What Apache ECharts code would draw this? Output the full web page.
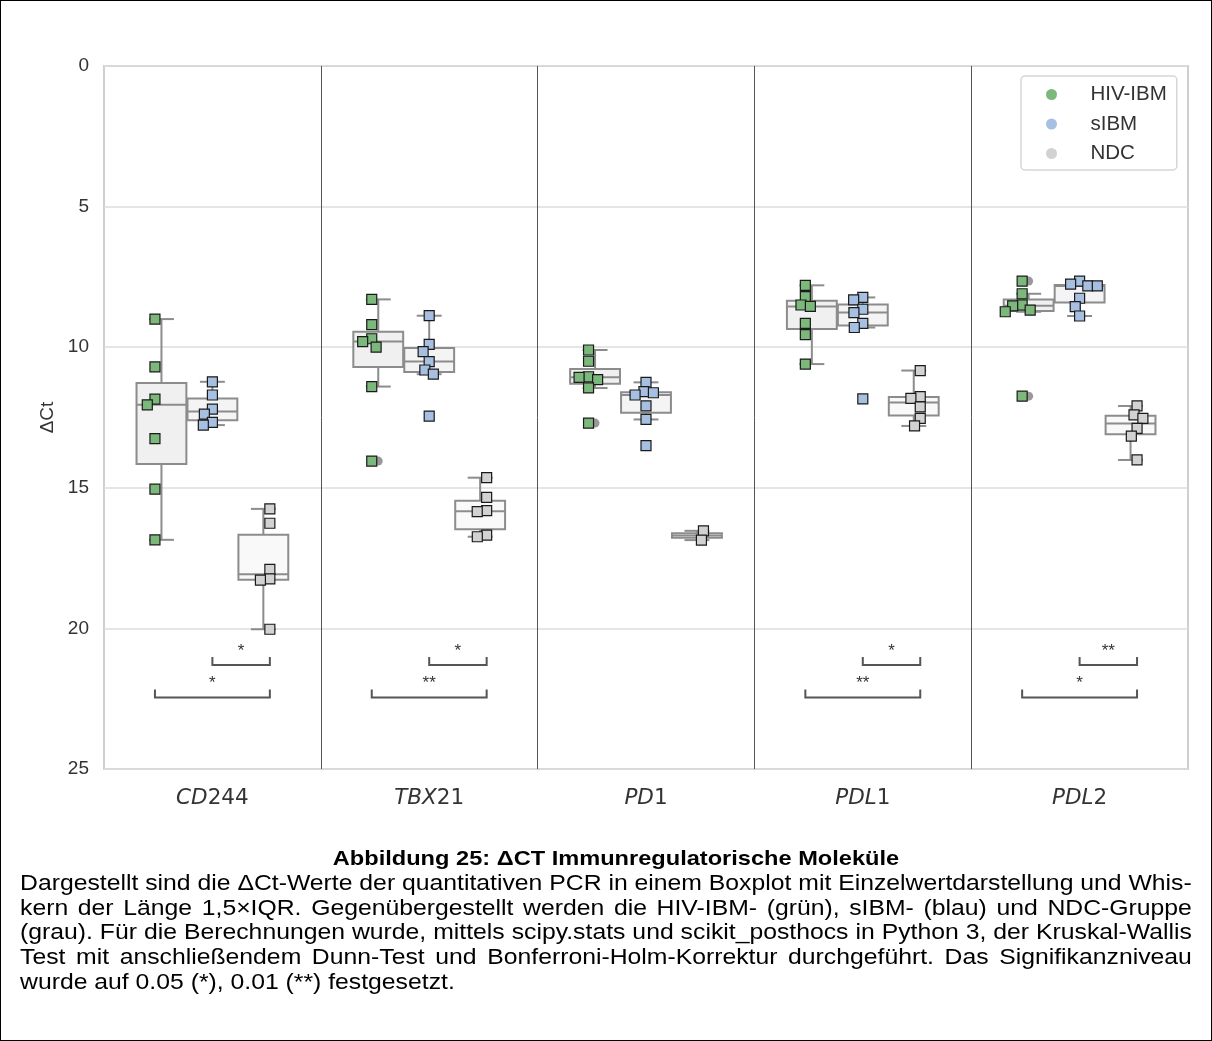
<!DOCTYPE html>
<html>
<head>
<meta charset="utf-8">
<script src="https://cdn.jsdelivr.net/npm/echarts@6/dist/echarts.min.js"></script>
<style>
html,body{margin:0;padding:0;background:#fff;width:1212px;height:1041px;overflow:hidden;}
#chart{position:absolute;left:0;top:0;width:1212px;height:1041px;}
#frame{position:absolute;left:0;top:0;width:1210px;height:1039px;border:1px solid #000;pointer-events:none;}
#cap{position:absolute;left:20px;top:846px;width:1172px;font-family:"Liberation Sans",Arial,sans-serif;color:#000;}
#capInner{transform-origin:0 0;}
#capInner div{line-height:24.8px;height:24.8px;white-space:nowrap;}
#capInner .t{font-weight:bold;text-align:center;}
</style>
</head>
<body>
<div id="chart"></div>
<div id="cap"><div id="capInner"></div></div>
<div id="frame"></div>
<script>
// ---------------- data ----------------
const categories = ['CD244', 'TBX21', 'PD1', 'PDL1', 'PDL2'];
const labelItalic = ['CD', 'TBX', 'PD', 'PDL', 'PDL'];
const labelPlain = ['244', '21', '1', '1', '2'];
const groups = ['HIV-IBM', 'sIBM', 'NDC'];
const hivIbm = [
  [9.0, 10.7, 11.85, 12.05, 13.25, 15.05, 16.85],
  [8.3, 9.2, 9.7, 9.8, 10.0, 11.4, 14.05],
  [10.1, 10.5, 11.05, 11.07, 11.15, 11.45, 12.7],
  [7.8, 8.2, 8.5, 8.55, 9.15, 9.55, 10.6],
  [7.65, 8.1, 8.5, 8.53, 8.68, 8.74, 11.74]
];
const sIbm = [
  [11.23, 11.7, 12.2, 12.38, 12.67, 12.77],
  [8.88, 9.9, 10.16, 10.51, 10.81, 10.96, 12.45],
  [11.25, 11.58, 11.62, 11.7, 12.09, 12.57, 13.5],
  [8.23, 8.32, 8.65, 8.77, 9.15, 9.3, 11.84],
  [7.65, 7.76, 7.82, 7.82, 8.26, 8.56, 8.89]
];
const ndc = [
  [15.75, 16.26, 17.9, 18.24, 18.28, 20.03],
  [14.64, 15.34, 15.81, 15.85, 16.68, 16.74],
  [16.53, 16.86],
  [10.83, 11.76, 11.82, 12.12, 12.53, 12.8],
  [12.09, 12.41, 12.53, 12.89, 13.16, 14.01]
];
const yTicks = [0, 5, 10, 15, 20, 25];
// significance brackets: category, group from, group to, label, tier
const sigCategory = [0, 0, 1, 1, 3, 3, 4, 4];
const sigFrom = [1, 0, 1, 0, 1, 0, 1, 0];
const sigTo = [2, 2, 2, 2, 2, 2, 2, 2];
const sigLabel = ['*', '*', '*', '**', '*', '**', '**', '*'];
const sigTier = [0, 1, 0, 1, 0, 1, 0, 1];

const titleText = 'Abbildung 25: \u0394CT Immunregulatorische Moleküle';
const captionLines = [
  'Dargestellt sind die \u0394Ct-Werte der quantitativen PCR in einem Boxplot mit Einzelwertdarstellung und Whis-',
  'kern der Länge 1,5×IQR. Gegenübergestellt werden die HIV-IBM- (grün), sIBM- (blau) und NDC-Gruppe',
  '(grau). Für die Berechnungen wurde, mittels scipy.stats und scikit_posthocs in Python 3, der Kruskal-Wallis',
  'Test mit anschließendem Dunn-Test und Bonferroni-Holm-Korrektur durchgeführt. Das Signifikanzniveau',
  'wurde auf 0.05 (*), 0.01 (**) festgesetzt.'
];

// ---------------- style / layout ----------------
const FONT = '"Liberation Sans", Arial, sans-serif';
const GRID = {left: 104, top: 66, width: 1084, height: 703};
const Y_MIN = 0, Y_MAX = 25, Y_INT = 5;
const PT_COLORS = ['#7cb87c', '#a7c0e2', '#d2d2d2'];
const BOX_FILLS = ['#f0f0f0', '#f4f4f4', '#f9f9f9'];
const BOX_EDGE = '#8c8c8c';
const BOX_OFF = [-0.235, 0, 0.235];
const PT_OFF = [-0.265, 0, 0.265];
const BOX_W = 0.23, CAP_W = 0.115;
const MARK = 10, SWARM_D = 9.5;
const BRACKET_Y = [21.3, 22.46];
const pxPerCat = GRID.width / categories.length;
const pxPerUnit = GRID.height / (Y_MAX - Y_MIN);

const allGroups = [hivIbm, sIbm, ndc];

function quantile(sorted, p) {
  const pos = p * (sorted.length - 1);
  const lo = Math.floor(pos), hi = Math.ceil(pos);
  return sorted[lo] + (sorted[hi] - sorted[lo]) * (pos - lo);
}
function boxStats(vals) {
  const s = vals.slice().sort((a, b) => a - b);
  const q1 = quantile(s, 0.25), med = quantile(s, 0.5), q3 = quantile(s, 0.75);
  const iqr = q3 - q1;
  const inside = s.filter(v => v >= q1 - 1.5 * iqr && v <= q3 + 1.5 * iqr);
  const out = s.filter(v => v < q1 - 1.5 * iqr || v > q3 + 1.5 * iqr);
  return {q1, med, q3, lo: inside[0], hi: inside[inside.length - 1], out};
}
function swarm(vals) {
  const idx = vals.map((v, i) => i).sort((a, b) => vals[a] - vals[b]);
  const placed = [];
  const off = new Array(vals.length).fill(0);
  idx.forEach(i => {
    const y = vals[i] * pxPerUnit;
    const cands = [0];
    placed.forEach(p => {
      const dy = Math.abs(p.y - y);
      if (dy < SWARM_D) {
        const dx = Math.sqrt(SWARM_D * SWARM_D - dy * dy);
        cands.push(p.x - dx, p.x + dx);
      }
    });
    cands.sort((a, b) => Math.abs(a) - Math.abs(b));
    let chosen = 0;
    for (const c of cands) {
      if (placed.every(p => Math.hypot(p.x - c, p.y - y) >= SWARM_D - 1e-6)) { chosen = c; break; }
    }
    placed.push({x: chosen, y});
    off[i] = chosen;
  });
  return off;
}

const series = [];
const flierData = [];
allGroups.forEach((g, gi) => {
  const boxData = [];
  g.forEach((vals, ci) => {
    const st = boxStats(vals);
    const bx = ci + BOX_OFF[gi];
    boxData.push([bx, st.q1, st.med, st.q3, st.lo, st.hi]);
    st.out.forEach(v => flierData.push([bx, v]));
  });
  series.push({
    type: 'custom', name: 'box' + gi, xAxisIndex: 1, z: 3, silent: true,
    data: boxData,
    renderItem: function (params, api) {
      const x = api.value(0), q1 = api.value(1), med = api.value(2), q3 = api.value(3), lo = api.value(4), hi = api.value(5);
      const a = api.coord([x - BOX_W / 2, q1]);
      const b = api.coord([x + BOX_W / 2, q3]);
      const c = api.coord([x, 0])[0];
      const cl = api.coord([x - CAP_W / 2, 0])[0], cr = api.coord([x + CAP_W / 2, 0])[0];
      const yLo = api.coord([x, lo])[1], yHi = api.coord([x, hi])[1], yMed = api.coord([x, med])[1];
      const ls = {stroke: BOX_EDGE, lineWidth: 2, fill: null};
      return {
        type: 'group',
        children: [
          {type: 'line', shape: {x1: c, y1: a[1], x2: c, y2: yLo}, style: ls},
          {type: 'line', shape: {x1: c, y1: b[1], x2: c, y2: yHi}, style: ls},
          {type: 'line', shape: {x1: cl, y1: yLo, x2: cr, y2: yLo}, style: ls},
          {type: 'line', shape: {x1: cl, y1: yHi, x2: cr, y2: yHi}, style: ls},
          {type: 'rect', shape: {x: a[0], y: Math.min(a[1], b[1]), width: b[0] - a[0], height: Math.abs(b[1] - a[1])},
            style: {fill: BOX_FILLS[gi], stroke: BOX_EDGE, lineWidth: 2}},
          {type: 'line', shape: {x1: a[0], y1: yMed, x2: b[0], y2: yMed}, style: ls}
        ]
      };
    }
  });
});

series.push({
  type: 'scatter', name: 'fliers', xAxisIndex: 1, z: 4, silent: true,
  symbol: 'circle', symbolSize: 9,
  itemStyle: {color: '#808080'},
  data: flierData,
  markLine: {
    silent: true, symbol: 'none', label: {show: false},
    lineStyle: {color: '#555', width: 1, type: 'solid'},
    data: categories.slice(1).map((c, i) => ({xAxis: i + 0.5}))
  }
});

allGroups.forEach((g, gi) => {
  const data = [];
  g.forEach((vals, ci) => {
    const offs = swarm(vals);
    vals.forEach((v, k) => data.push([ci + PT_OFF[gi] + offs[k] / pxPerCat, v]));
  });
  series.push({
    type: 'scatter', name: groups[gi], xAxisIndex: 1, z: 5,
    symbol: 'rect', symbolSize: MARK,
    itemStyle: {color: PT_COLORS[gi], borderColor: '#1a1a1a', borderWidth: 1.2, opacity: 1},
    data: data
  });
});

const sigData = sigCategory.map((c, i) => [c + PT_OFF[sigFrom[i]], c + PT_OFF[sigTo[i]], sigTier[i], i]);
series.push({
  type: 'custom', name: 'sig', xAxisIndex: 1, z: 6, silent: true,
  data: sigData,
  renderItem: function (params, api) {
    const x1 = api.value(0), x2 = api.value(1), tier = api.value(2), li = api.value(3);
    const p1 = api.coord([x1, BRACKET_Y[tier]]);
    const p2 = api.coord([x2, BRACKET_Y[tier]]);
    const tick = 8;
    return {
      type: 'group',
      children: [
        {type: 'polyline', shape: {points: [[p1[0], p1[1] - tick], [p1[0], p1[1]], [p2[0], p2[1]], [p2[0], p2[1] - tick]]},
          style: {stroke: '#555', lineWidth: 2, fill: null}},
        {type: 'text', style: {x: (p1[0] + p2[0]) / 2, y: p1[1] - 14, text: sigLabel[li], fill: '#333',
          font: '17px ' + FONT, align: 'center', verticalAlign: 'middle'}}
      ]
    };
  }
});

const chart = echarts.init(document.getElementById('chart'), null, {renderer: 'canvas'});
chart.setOption({
  animation: false,
  backgroundColor: 'transparent',
  textStyle: {fontFamily: FONT},
  grid: {left: GRID.left, top: GRID.top, width: GRID.width, height: GRID.height, show: true,
    borderColor: '#cfcfcf', borderWidth: 2, backgroundColor: 'transparent'},
  legend: {
    show: true, orient: 'vertical', left: 1021, top: 76,
    data: groups.map(g => ({name: g, icon: 'circle'})),
    itemWidth: 40, itemHeight: 11, itemGap: 8.5,
    padding: [8, 10, 6, 25],
    itemStyle: {borderWidth: 0},
    textStyle: {fontSize: 20.5, color: '#333', fontFamily: FONT, lineHeight: 20, padding: [0, 0, 0, 14]},
    borderColor: '#d6d6d6', borderWidth: 1.5, borderRadius: 4, backgroundColor: 'rgba(255,255,255,0.85)'
  },
  xAxis: [
    {
      type: 'category', data: categories, position: 'bottom', gridIndex: 0,
      axisLine: {show: false}, axisTick: {show: false}, splitLine: {show: false},
      axisLabel: {
        margin: 18, color: '#333',
        formatter: function (v, i) { return '{i|' + labelItalic[i] + '}{n|' + labelPlain[i] + '}'; },
        rich: {
          i: {fontFamily: '"DejaVu Sans", sans-serif', fontStyle: 'italic', fontSize: 21.5, color: '#333'},
          n: {fontFamily: '"DejaVu Sans", sans-serif', fontSize: 21.5, color: '#333'}
        }
      }
    },
    {type: 'value', min: -0.5, max: categories.length - 0.5, show: false, gridIndex: 0,
      splitLine: {show: false}}
  ],
  yAxis: {
    type: 'value', inverse: true, min: Y_MIN, max: Y_MAX, interval: Y_INT,
    axisLine: {show: false}, axisTick: {show: false},
    axisLabel: {fontSize: 19, color: '#333', margin: 15, fontFamily: FONT,
      formatter: function (v) { return yTicks.indexOf(v) >= 0 ? String(v) : ''; }},
    splitLine: {show: true, lineStyle: {color: '#dcdcdc', width: 1.5}},
    name: '\u0394Ct', nameLocation: 'middle', nameGap: 44, nameRotate: 90,
    nameTextStyle: {fontSize: 19, color: '#333', fontFamily: FONT}
  },
  series: series
});

// ---------------- caption ----------------
const CAP_W_PX = 1172;
const inner = document.getElementById('capInner');
const t = document.createElement('div');
t.className = 't'; t.style.fontSize = '20.5px';
t.textContent = titleText;
inner.appendChild(t);
const spans = [];
captionLines.forEach((line, i) => {
  const d = document.createElement('div');
  d.style.fontSize = '21.5px';
  const sp = document.createElement('span');
  sp.textContent = line;
  d.appendChild(sp);
  inner.appendChild(d);
  spans.push(sp);
});
function layoutCaption() {
  spans.forEach(sp => { sp.parentNode.style.wordSpacing = '0px'; });
  inner.style.transform = 'none';
  inner.style.width = '3000px';
  const natural0 = spans[0].offsetWidth;
  const sx = CAP_W_PX / natural0;
  const innerW = CAP_W_PX / sx;
  inner.style.width = innerW + 'px';
  inner.style.transform = 'scaleX(' + sx + ')';
  t.style.marginLeft = (20 / sx) + 'px';
  spans.forEach((sp, i) => {
    if (i === 0 || i === spans.length - 1) return;
    const natural = sp.offsetWidth;
    const nSpaces = (captionLines[i].match(/ /g) || []).length;
    sp.parentNode.style.wordSpacing = ((innerW - natural) / nSpaces) + 'px';
  });
}
layoutCaption();
if (document.fonts && document.fonts.ready) document.fonts.ready.then(layoutCaption);
</script>
</body>
</html>
